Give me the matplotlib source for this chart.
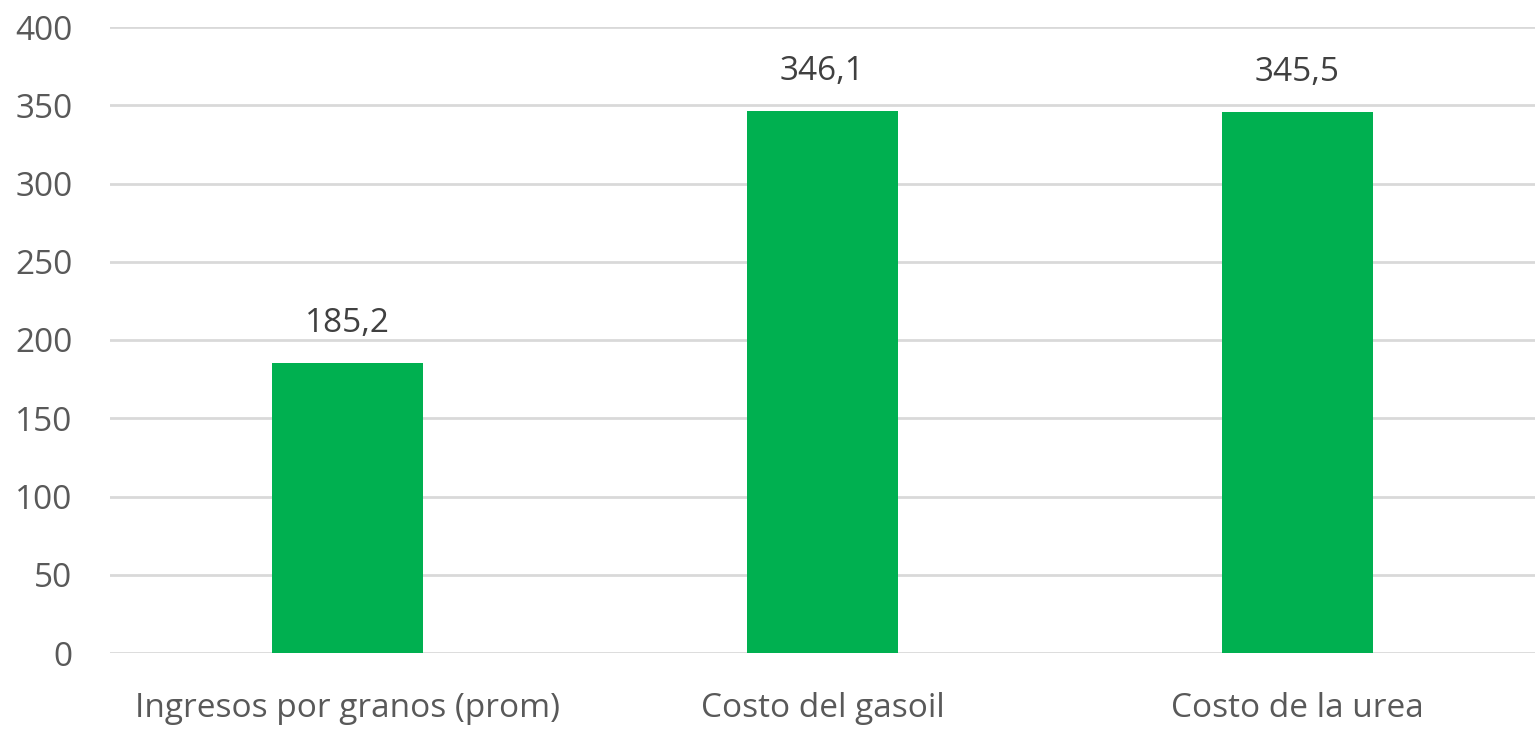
#!/usr/bin/env python3
"""
Bar chart: ingresos vs costos
"""
import numpy as np
import matplotlib
matplotlib.use('Agg')
import matplotlib.pyplot as plt

categories = ['Ingresos por granos (prom)', 'Costo del gasoil', 'Costo de la urea']
values = [185.2, 346.1, 345.5]
yticks = [0, 50, 100, 150, 200, 250, 300, 350, 400]

plt.rcParams['font.family'] = ['Open Sans', 'DejaVu Sans']
text_color = '#595959'

fig = plt.figure(figsize=(15.37, 7.35), dpi=100)
ax = fig.add_axes([110 / 1537, 1 - 653 / 735, (1535 - 110) / 1537, (653 - 27) / 735])

x = np.arange(len(categories))
bars = ax.bar(x, values, width=0.318, color='#00B050', zorder=3)
for b, v in zip(bars, values):
    ax.text(b.get_x() + b.get_width() / 2, v + 15, f'{v:.1f}'.replace('.', ','),
            ha='center', va='bottom', fontsize=24, color='#404040')

ax.set_xlim(-0.5, 2.5)
ax.set_ylim(0, 400)
ax.set_yticks(yticks)
ax.set_xticks(x)
ax.set_xticklabels(categories)
ax.grid(axis='y', color='#D9D9D9', linewidth=2, zorder=0)
ax.tick_params(axis='both', length=0, labelsize=24, colors=text_color)
ax.tick_params(axis='x', pad=28)
ax.tick_params(axis='y', pad=27)
for s in ax.spines.values():
    s.set_visible(False)

fig.savefig('out.png', dpi=100)
